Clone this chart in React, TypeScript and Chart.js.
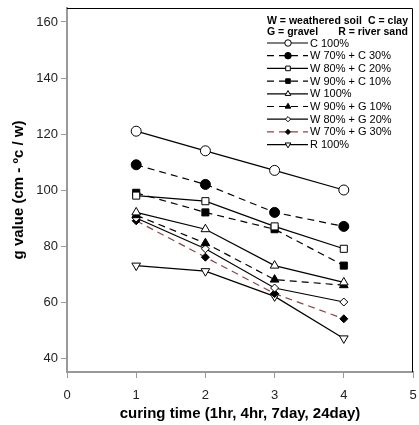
import React, { useEffect, useRef } from "react";
import { Chart, registerables } from "chart.js";
import { drawPoint } from "chart.js/helpers";

Chart.register(...registerables);

const curingTimes = [1, 2, 3, 4];
const xTickValues = [0, 1, 2, 3, 4, 5];
const yTickValues = [40, 60, 80, 100, 120, 140, 160];

const seriesNames = [
  "C 100%",
  "W 70% + C 30%",
  "W 80% + C 20%",
  "W 90% + C 10%",
  "W 100%",
  "W 90% + G 10%",
  "W 80% + G 20%",
  "W 70% + G 30%",
  "R 100%",
];

const c100 = [121, 114, 107, 100];
const w70c30 = [109, 102, 92, 87];
const w80c20 = [98, 96, 87, 79];
const w90c10 = [99, 92, 86, 73];
const w100 = [92, 86, 73, 67];
const w90g10 = [91, 81, 68, 66];
const w80g20 = [90, 79, 65, 60];
const w70g30 = [89, 76, 63, 54];
const r100 = [73, 71, 62, 47];

const seriesValues = [c100, w70c30, w80c20, w90c10, w100, w90g10, w80g20, w70g30, r100];

const headerLeft = ["W = weathered soil", "G = gravel"];
const headerRight = ["C = clay", "R = river sand"];

const FONT = "'Liberation Sans', Arial, sans-serif";
const DASH = [7, 5];

type Style = {
  pointStyle: string;
  filled: boolean;
  dashed: boolean;
  color: string;
  radius: number;
  rotation?: number;
};

const styles: Style[] = [
  { pointStyle: "circle", filled: false, dashed: false, color: "#000", radius: 5 },
  { pointStyle: "circle", filled: true, dashed: true, color: "#000", radius: 5 },
  { pointStyle: "rect", filled: false, dashed: false, color: "#000", radius: 5 },
  { pointStyle: "rect", filled: true, dashed: true, color: "#000", radius: 5 },
  { pointStyle: "triangle", filled: false, dashed: false, color: "#000", radius: 5 },
  { pointStyle: "triangle", filled: true, dashed: true, color: "#000", radius: 5 },
  { pointStyle: "rectRot", filled: false, dashed: false, color: "#000", radius: 4 },
  { pointStyle: "rectRot", filled: true, dashed: true, color: "#8b4545", radius: 4 },
  { pointStyle: "triangle", filled: false, dashed: false, color: "#000", radius: 5, rotation: 180 },
];

const framePlugin = {
  id: "frame",
  afterDraw(chart: any) {
    const { ctx, chartArea } = chart;
    ctx.save();
    ctx.strokeStyle = "#000";
    ctx.lineWidth = 1;
    ctx.beginPath();
    ctx.moveTo(chartArea.left, chartArea.top + 0.5);
    ctx.lineTo(chartArea.right - 0.5, chartArea.top + 0.5);
    ctx.lineTo(chartArea.right - 0.5, chartArea.bottom);
    ctx.stroke();
    ctx.restore();
  },
};

const legendPlugin = {
  id: "customLegend",
  afterDraw(chart: any) {
    const { ctx } = chart;
    ctx.save();
    ctx.fillStyle = "#000";
    ctx.textBaseline = "middle";
    ctx.font = `bold 10.5px ${FONT}`;
    const hy = [21, 32];
    headerLeft.forEach((t, i) => {
      ctx.textAlign = "left";
      ctx.fillText(t, 267, hy[i]);
    });
    headerRight.forEach((t, i) => {
      ctx.textAlign = "right";
      ctx.fillText(t, 408, hy[i]);
    });
    ctx.font = `11px ${FONT}`;
    chart.data.datasets.forEach((ds: any, i: number) => {
      const y = 43 + i * 12.7;
      ctx.strokeStyle = ds.borderColor;
      ctx.lineWidth = 1.2;
      ctx.setLineDash(ds.borderDash || []);
      ctx.beginPath();
      ctx.moveTo(267, y);
      ctx.lineTo(308, y);
      ctx.stroke();
      ctx.setLineDash([]);
      ctx.fillStyle = ds.pointBackgroundColor;
      ctx.strokeStyle = ds.pointBorderColor;
      ctx.lineWidth = 1;
      drawPoint(ctx, { pointStyle: ds.pointStyle, radius: ds.pointRadius * 0.65, rotation: ds.pointRotation || 0, borderWidth: 1 } as any, 288, y);
      ctx.fillStyle = "#000";
      ctx.textAlign = "left";
      ctx.fillText(ds.label, 310, y + 0.5);
    });
    ctx.restore();
  },
};

export default function App() {
  const ref = useRef<HTMLCanvasElement | null>(null);
  useEffect(() => {
    document.body.style.margin = "0";
    const canvas = ref.current!;
    const datasets = seriesNames.map((name, i) => {
      const s = styles[i];
      return {
        label: name,
        data: curingTimes.map((x, j) => ({ x, y: seriesValues[i][j] })),
        borderColor: s.color,
        borderWidth: 1.2,
        borderDash: s.dashed ? DASH : [],
        pointStyle: s.pointStyle,
        pointRadius: s.radius,
        pointRotation: s.rotation || 0,
        pointBackgroundColor: s.filled ? "#000" : "#fff",
        pointBorderColor: "#000",
        pointBorderWidth: 1,
        fill: false,
        tension: 0,
      };
    });
    const chart = new Chart(canvas, {
      type: "line",
      data: { datasets },
      plugins: [framePlugin, legendPlugin],
      options: {
        responsive: false,
        animation: false,
        layout: { padding: { left: 0, top: 8, right: 1, bottom: 0 } },
        plugins: { legend: { display: false }, tooltip: { enabled: false } },
        scales: {
          x: {
            type: "linear",
            min: 0,
            max: 5,
            afterBuildTicks: (scale: any) => {
              scale.ticks = xTickValues.map((v) => ({ value: v }));
            },
            afterFit: (scale: any) => {
              scale.height = 53;
              scale.paddingLeft = 0;
              scale.paddingRight = 0;
            },
            grid: { drawOnChartArea: false, color: "#999", tickLength: 6, lineWidth: 1 },
            border: { color: "#999", width: 2 },
            ticks: { color: "#222", font: { family: FONT, size: 13 }, padding: 10, maxRotation: 0 },
            title: {
              display: true,
              text: "curing time (1hr, 4hr, 7day, 24day)",
              color: "#000",
              font: { family: FONT, size: 15, weight: "bold" },
              padding: { top: 0, bottom: 2 },
            },
          },
          y: {
            type: "linear",
            min: 35,
            max: 165,
            afterBuildTicks: (scale: any) => {
              scale.ticks = yTickValues.map((v) => ({ value: v }));
            },
            afterFit: (scale: any) => {
              scale.width = 67;
              scale.paddingTop = 0;
              scale.paddingBottom = 0;
            },
            grid: { drawOnChartArea: false, color: "#999", tickLength: 6, lineWidth: 1 },
            border: { color: "#999", width: 2 },
            ticks: { color: "#222", font: { family: FONT, size: 13 }, padding: 3 },
            title: {
              display: true,
              text: "g value (cm - ºc / w)",
              color: "#000",
              font: { family: FONT, size: 15, weight: "bold" },
              padding: { top: 10, bottom: 0 },
            },
          },
        },
      } as any,
    });
    return () => chart.destroy();
  }, []);
  return (
    <div style={{ width: 419, height: 425 }}>
      <canvas ref={ref} width={419} height={425} style={{ display: "block" }} />
    </div>
  );
}
